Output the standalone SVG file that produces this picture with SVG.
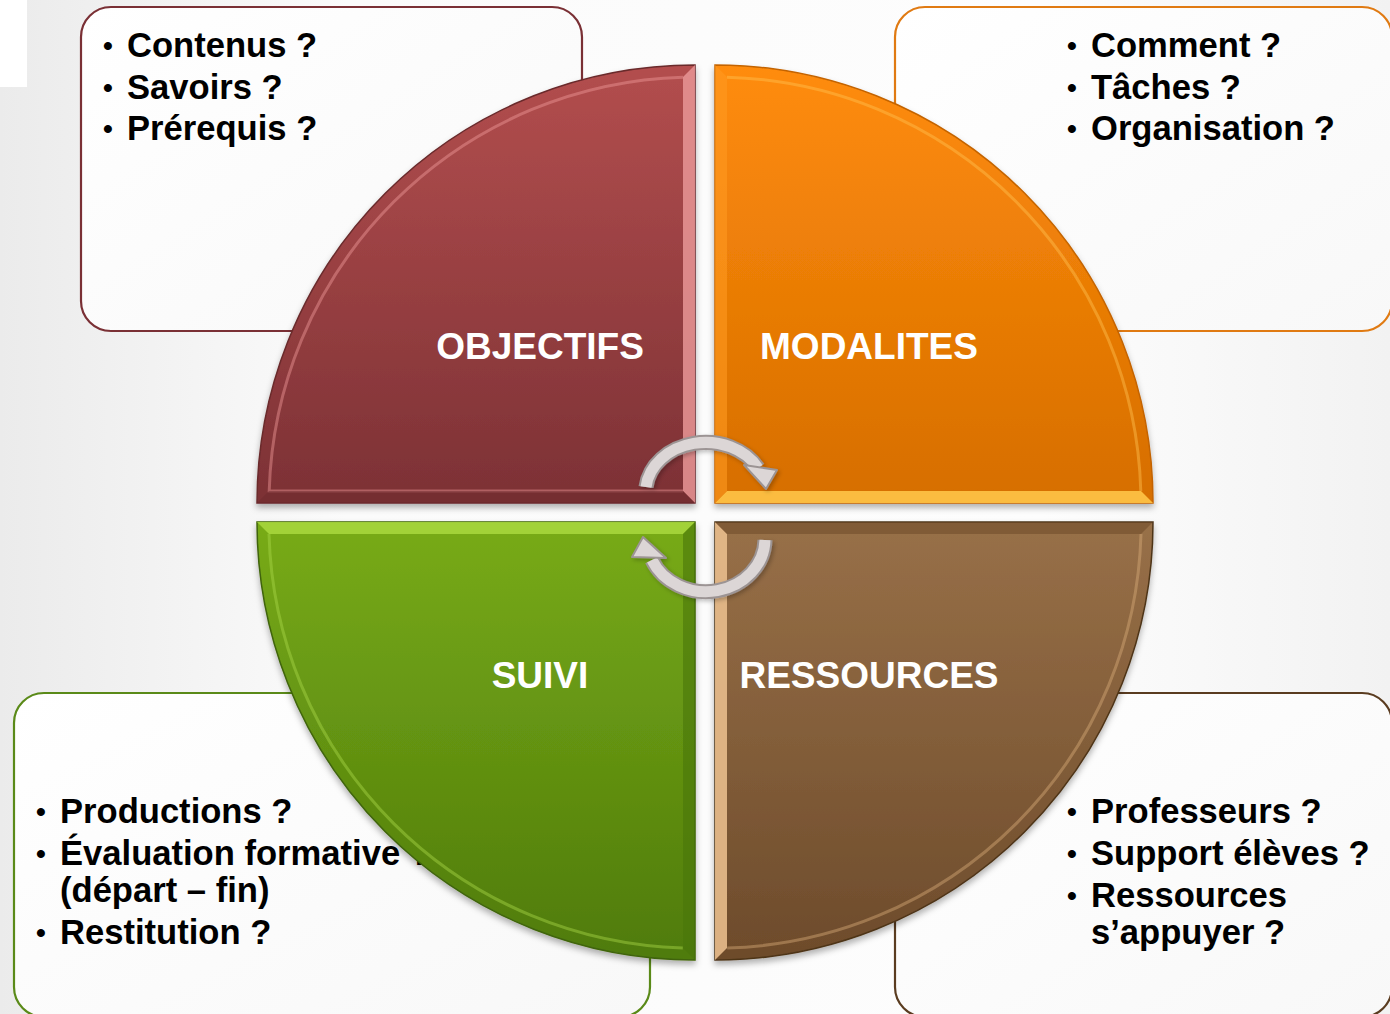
<svg xmlns="http://www.w3.org/2000/svg" width="1390" height="1014" viewBox="0 0 1390 1014">
<defs>
<linearGradient id="bg" x1="0" y1="0" x2="1" y2="0">
<stop offset="0" stop-color="#ebebeb"/><stop offset="0.25" stop-color="#fbfbfb"/><stop offset="0.75" stop-color="#fdfdfd"/><stop offset="1" stop-color="#f2f2f2"/>
</linearGradient>
<linearGradient id="gTL" x1="0" y1="0" x2="0" y2="1"><stop offset="0" stop-color="#b34e4e"/><stop offset="1" stop-color="#7c3135"/></linearGradient>
<linearGradient id="gTR" x1="0" y1="0" x2="0" y2="1"><stop offset="0" stop-color="#ff8c0c"/><stop offset="1" stop-color="#d66e00"/></linearGradient>
<linearGradient id="gBL" x1="0" y1="0" x2="0" y2="1"><stop offset="0" stop-color="#78ab18"/><stop offset="1" stop-color="#4f7b0b"/></linearGradient>
<linearGradient id="gBR" x1="0" y1="0" x2="0" y2="1"><stop offset="0" stop-color="#987048"/><stop offset="1" stop-color="#6d4b2b"/></linearGradient>
<linearGradient id="box" x1="0" y1="0" x2="1" y2="1"><stop offset="0" stop-color="#ffffff"/><stop offset="1" stop-color="#f8f8f8"/></linearGradient>
<filter id="sh" x="-10%" y="-10%" width="120%" height="120%">
<feDropShadow dx="0" dy="4" stdDeviation="3" flood-color="#000" flood-opacity="0.3"/>
</filter>
<filter id="sh2" x="-10%" y="-10%" width="120%" height="120%">
<feDropShadow dx="2" dy="2" stdDeviation="2" flood-color="#000" flood-opacity="0.25"/>
</filter>
</defs>
<style>
.t{font-family:"Liberation Sans",Arial,sans-serif;font-weight:bold;font-size:34.6px;fill:#000}
.b{font-size:28px}
.lbl{font-family:"Liberation Sans",Arial,sans-serif;font-weight:bold;font-size:37px;fill:#fff;text-anchor:middle}
.box{fill:url(#box);stroke-width:2.2}
.inset{fill:none;stroke-width:3;opacity:0.45}
.arc-o{fill:none;stroke:#9c9494;stroke-width:15}
.arc-i{fill:none;stroke:#dcd6d6;stroke-width:11}
.head{fill:#dcd6d6;stroke:#9c9494;stroke-width:2;stroke-linejoin:round}
</style>
<rect x="0" y="0" width="1390" height="1014" fill="url(#bg)"/>
<rect x="0" y="0" width="27" height="87" fill="#ffffff"/>

<g id="box-objectifs">
<rect class="box" x="81" y="7" width="501" height="324" rx="30" stroke="#7a3035"/>
<text class="t" y="57"><tspan class="b" x="103" dy="-2">•</tspan><tspan x="127" dy="2">Contenus ?</tspan></text>
<text class="t" y="99"><tspan class="b" x="103" dy="-2">•</tspan><tspan x="127" dy="2">Savoirs ?</tspan></text>
<text class="t" y="140"><tspan class="b" x="103" dy="-2">•</tspan><tspan x="127" dy="2">Prérequis ?</tspan></text>
</g>
<g id="box-modalites">
<rect class="box" x="895" y="7" width="497" height="324" rx="30" stroke="#e07a12"/>
<text class="t" y="57"><tspan class="b" x="1067" dy="-2">•</tspan><tspan x="1091" dy="2">Comment ?</tspan></text>
<text class="t" y="99"><tspan class="b" x="1067" dy="-2">•</tspan><tspan x="1091" dy="2">Tâches ?</tspan></text>
<text class="t" y="140"><tspan class="b" x="1067" dy="-2">•</tspan><tspan x="1091" dy="2">Organisation ?</tspan></text>
</g>
<g id="box-suivi">
<rect class="box" x="14" y="693" width="636" height="324" rx="30" stroke="#5a8a18"/>
<text class="t" y="823"><tspan class="b" x="36" dy="-2">•</tspan><tspan x="60" dy="2">Productions ?</tspan></text>
<text class="t" y="865"><tspan class="b" x="36" dy="-2">•</tspan><tspan x="60" dy="2">Évaluation formative ?</tspan></text>
<text class="t" x="60" y="902">(départ – fin)</text>
<text class="t" y="944"><tspan class="b" x="36" dy="-2">•</tspan><tspan x="60" dy="2">Restitution ?</tspan></text>
</g>
<g id="box-ressources">
<rect class="box" x="895" y="693" width="497" height="324" rx="30" stroke="#5a3c20"/>
<text class="t" y="823"><tspan class="b" x="1067" dy="-2">•</tspan><tspan x="1091" dy="2">Professeurs ?</tspan></text>
<text class="t" y="865"><tspan class="b" x="1067" dy="-2">•</tspan><tspan x="1091" dy="2">Support élèves ?</tspan></text>
<text class="t" y="907"><tspan class="b" x="1067" dy="-2">•</tspan><tspan x="1091" dy="2">Ressources</tspan></text>
<text class="t" x="1091" y="944">s’appuyer ?</text>
</g>

<g id="q-objectifs">
<path d="M695 503 L257 503 A438 438 0 0 1 695 65 Z" fill="url(#gTL)" stroke="#6a2a2c" stroke-width="1.5" filter="url(#sh)"/>
<path class="inset" d="M683 491 L269.2 491 A426 426 0 0 1 683 77.2" stroke="#f09a9a"/>
<path d="M683 77 L695 65 L695 503 L683 491 Z" fill="#e89595" opacity="0.85"/>
<path d="M269 491 L683 491 L695 503 L257 503 Z" fill="#6e2a2e" opacity="0.5"/>
<text class="lbl" x="540" y="359">OBJECTIFS</text>
</g>
<g id="q-modalites">
<path d="M715 503 L715 65 A438 438 0 0 1 1153 503 Z" fill="url(#gTR)" stroke="#c46400" stroke-width="1.5" filter="url(#sh)"/>
<path class="inset" d="M727 77.2 A426 426 0 0 1 1140.8 491" stroke="#ffc050"/>
<path d="M727 491 L1141 491 L1153 503 L715 503 Z" fill="#ffc447" opacity="0.9"/>
<path d="M715 65 L727 77 L727 491 L715 503 Z" fill="#ff9a20" opacity="0.6"/>
<text class="lbl" x="869" y="359">MODALITES</text>
</g>
<g id="q-suivi">
<path d="M695 522 L695 960 A438 438 0 0 1 257 522 Z" fill="url(#gBL)" stroke="#3f6408" stroke-width="1.5" filter="url(#sh)"/>
<path class="inset" d="M682.8 948 A426 426 0 0 1 269 534" stroke="#a8d848"/>
<path d="M257 522 L695 522 L683 534 L269 534 Z" fill="#a6d63c" opacity="0.9"/>
<path d="M683 534 L695 522 L695 960 L683 948 Z" fill="#4a760a" opacity="0.6"/>
<text class="lbl" x="540" y="688">SUIVI</text>
</g>
<g id="q-ressources">
<path d="M715 522 L1153 522 A438 438 0 0 1 715 960 Z" fill="url(#gBR)" stroke="#4e3418" stroke-width="1.5" filter="url(#sh)"/>
<path class="inset" d="M1141 534 A426 426 0 0 1 727.2 948" stroke="#d8aa78"/>
<path d="M715 522 L727 534 L727 948 L715 960 Z" fill="#e8bc8c" opacity="0.9"/>
<path d="M727 534 L1141 534 L1153 522 L715 522 Z" fill="#6a4626" opacity="0.5"/>
<text class="lbl" x="869" y="688">RESSOURCES</text>
</g>

<g id="connectors" filter="url(#sh2)">
<path class="arc-o" d="M646 487 A60 50 0 0 1 758 468"/>
<path class="arc-i" d="M646 487 A60 50 0 0 1 758 468"/>
<polygon class="head" points="744,465 777,470 766,489"/>
<path class="arc-o" d="M765 540 A59 53 0 0 1 652 560"/>
<path class="arc-i" d="M765 540 A59 53 0 0 1 652 560"/>
<polygon class="head" points="643,537 632,557 666,558"/>
</g>
</svg>
